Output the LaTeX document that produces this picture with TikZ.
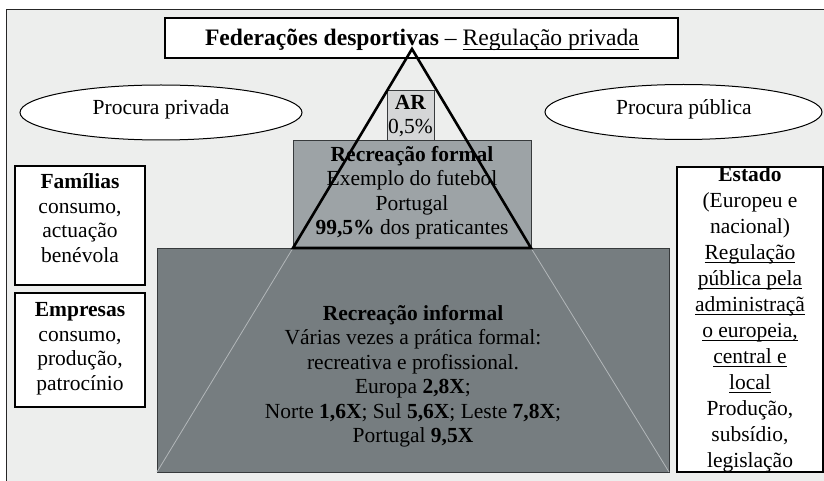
\documentclass[tikz,border=0pt]{standalone}
\usepackage{fontspec}
\setmainfont{Liberation Serif}
\usetikzlibrary{shapes.geometric}
\definecolor{bgc}{RGB}{237,238,237}
\definecolor{arfill}{RGB}{213,214,215}
\definecolor{formfill}{RGB}{157,163,166}
\definecolor{inffill}{RGB}{118,125,128}
\definecolor{edgec}{RGB}{55,58,60}
\definecolor{ghost}{RGB}{178,183,185}
\newcommand\myul[1]{\setbox0\hbox{#1}\rlap{\rule[-4pt]{\wd0}{0.9pt}}\box0}
\begin{document}
\begin{tikzpicture}[x=1pt,y=-1pt,
  txt/.style={align=center, inner sep=0pt, font=\fontsize{21.5}{24.5}\selectfont},
  sidebox/.style={draw=black, line width=1.3pt, fill=white, inner sep=0pt},
  oval/.style={ellipse, draw=black, line width=1pt, fill=white, inner sep=0pt},
  layer/.style={draw=edgec, line width=0.9pt, inner sep=0pt}]
\useasboundingbox (0,0) rectangle (824,481);
\clip (0,0) rectangle (824,481);
\fill[white] (0,0) rectangle (824,481);
\draw[fill=bgc, draw=black!85, line width=1pt] (6,10) rectangle (840,500);

% top box
\node[draw=black, line width=2.8pt, fill=white, minimum width=513, minimum height=40, inner sep=0pt] (fed) at (421.5,38) {};
\node[txt, font=\fontsize{23.6}{26}\selectfont] (fedt) at (422,40) {\textbf{Federações desportivas} – \myul{Regulação privada}};

% ellipses
\node[oval, minimum width=282, minimum height=55] (pp) at (161,112.5) {};
\node[txt] (ppt) at (161,109) {Procura privada};
\node[oval, minimum width=277, minimum height=55] (pb) at (683.5,112) {};
\node[txt] (pbt) at (684,109) {Procura pública};

% side boxes
\node[sidebox, minimum width=130, minimum height=119] (fam) at (80,225.5) {};
\node[txt] (famt) at (80,218) {\textbf{Famílias}\\consumo,\\actuação\\benévola};
\node[sidebox, minimum width=130, minimum height=114] (emp) at (80,350) {};
\node[txt] (empt) at (80,348.5) {\textbf{Empresas}\\consumo,\\produção,\\patrocínio};
\node[sidebox, minimum width=146, minimum height=305] (est) at (750,319.5) {};
\node[txt, font=\fontsize{21.5}{26}\selectfont] (estt) at (750,319) {\textbf{Estado}\\(Europeu e\\nacional)\\\myul{Regulação}\\\myul{pública pela}\\\myul{administraçã}\\\myul{o europeia,}\\\myul{central e}\\\myul{local}\\Produção,\\subsídio,\\legislação};

% pyramid layers
\node[layer, fill=inffill, minimum width=512, minimum height=224] (inf) at (413,360) {};
\node[layer, fill=formfill, minimum width=238, minimum height=108] (form) at (412,194) {};
\node[layer, fill=arfill, minimum width=47, minimum height=50] (ar) at (410.5,115) {};

\node[txt] (inft) at (413,376) {\textbf{Recreação informal}\\Várias vezes a prática formal:\\recreativa e profissional.\\Europa \textbf{2,8X};\\Norte \textbf{1,6X}; Sul \textbf{5,6X}; Leste \textbf{7,8X};\\Portugal \textbf{9,5X}};
\node[txt] (formt) at (412,192.5) {\textbf{Recreação formal}\\Exemplo do futebol\\Portugal\\\textbf{99,5\%} dos praticantes};
\node[txt] (art) at (410.5,116) {\textbf{AR}\\0,5\%};

% triangle
\coordinate (apex) at (412,49);
\coordinate (bl) at (293,248);
\coordinate (br) at (531,248);
\coordinate (il) at (157,472);
\coordinate (ir) at (669,472);
\draw[ghost, line width=0.8pt] (bl) -- (il) (br) -- (ir);
\draw[black, line width=2.6pt, line join=miter] (bl) -- (apex) -- (br) -- cycle;
\end{tikzpicture}
\end{document}
